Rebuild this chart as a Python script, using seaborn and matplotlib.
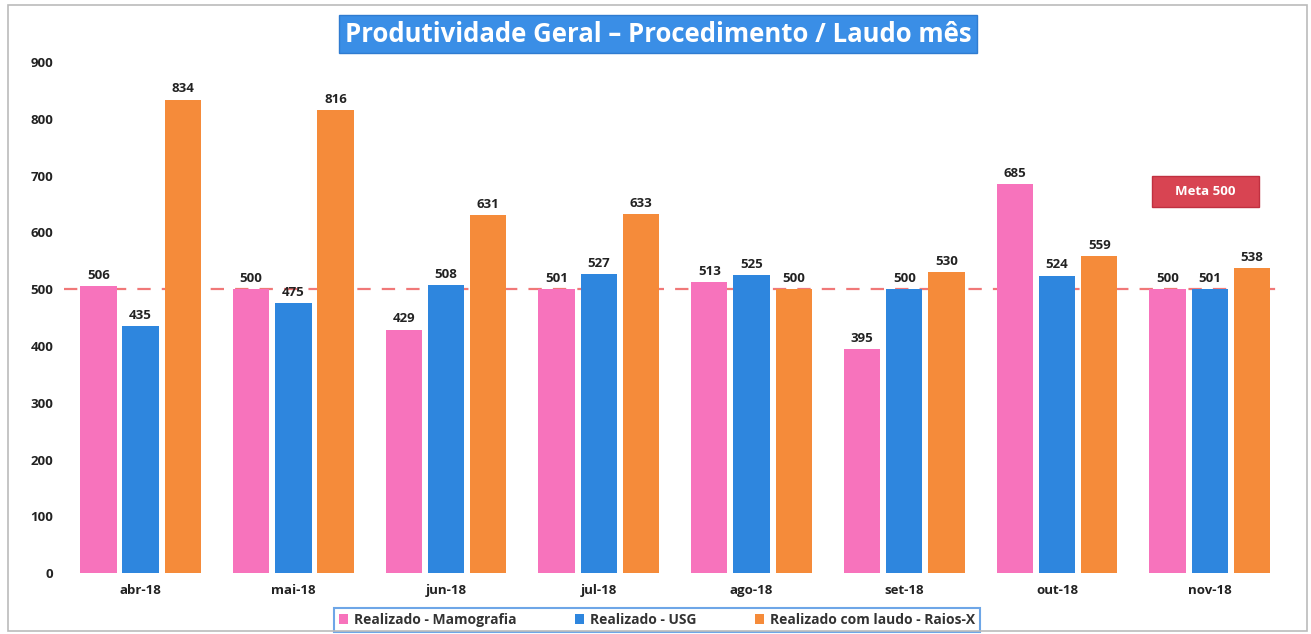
import pandas as pd
import numpy as np
import matplotlib.pyplot as plt
import seaborn as sns
from matplotlib.patches import Rectangle

# dados
meses = ['abr-18', 'mai-18', 'jun-18', 'jul-18', 'ago-18', 'set-18', 'out-18', 'nov-18']
mamografia = [506, 500, 429, 501, 513, 395, 685, 500]
usg = [435, 475, 508, 527, 525, 500, 524, 501]
raios_x = [834, 816, 631, 633, 500, 530, 559, 538]
series = ['Realizado - Mamografia', 'Realizado - USG', 'Realizado com laudo - Raios-X']
cores = ['#F773BC', '#2E86DE', '#F58B3A']
meta = 500

df = pd.DataFrame({
    'mes': meses * 3,
    'serie': [series[0]] * 8 + [series[1]] * 8 + [series[2]] * 8,
    'valor': mamografia + usg + raios_x,
})

sns.set_theme(style='white')
plt.rcParams['font.family'] = ['Open Sans', 'DejaVu Sans']

fig = plt.figure(figsize=(13.11, 6.34), dpi=100)
ax = fig.add_axes([0.049, 0.096, 0.932, 0.806])

sns.barplot(data=df, x='mes', y='valor', hue='serie', palette=cores, saturation=1,
            width=0.83, gap=0.14, edgecolor='none', ax=ax, legend=True)

# rótulos dos valores
for cont in ax.containers:
    ax.bar_label(cont, padding=3, fontsize=9.5, fontweight='bold', color='#222222')

# linha de meta
ax.axhline(meta, color='#F07878', linestyle=(0, (6, 5)), linewidth=1.6, zorder=0.5)

ax.set_ylim(0, 900)
ax.set_xlim(-0.5, len(meses) - 0.5)
ax.set_yticks(range(0, 901, 100))
ax.set_xlabel('')
ax.set_ylabel('')
ax.tick_params(axis='both', length=0, labelsize=9.5, pad=8)
for lbl in ax.get_xticklabels() + ax.get_yticklabels():
    lbl.set_fontweight('bold')
    lbl.set_color('#222222')
for s in ax.spines.values():
    s.set_visible(False)

# legenda
leg = ax.legend(loc='upper center', bbox_to_anchor=(0.485, -0.055), ncol=3,
                frameon=True, fontsize=10, handlelength=0.7, handleheight=0.7,
                columnspacing=4.2, borderpad=0.35, handletextpad=0.4)
leg.get_frame().set_edgecolor('#4A90E2')
leg.get_frame().set_linewidth(1.5)
leg.get_frame().set_boxstyle('square', pad=0.0)
for t in leg.get_texts():
    t.set_fontweight('bold')
    t.set_color('#333333')

# título
fig.text(0.502, 0.946, 'Produtividade Geral \u2013 Procedimento / Laudo mês',
         ha='center', va='center', fontsize=18.5, fontweight='bold', color='white',
         bbox=dict(boxstyle='square,pad=0.22', facecolor='#3A8EE6', edgecolor='#2F7BD0'))

# caixa meta
ax.text(0.934, 0.747, '    Meta 500    ', transform=ax.transAxes, ha='center', va='center',
        fontsize=9.5, fontweight='bold', color='white',
        bbox=dict(boxstyle='square,pad=0.7', facecolor='#D84452', edgecolor='#C03040'))

# moldura
fig.patches.append(Rectangle((0.006, 0.004), 0.991, 0.988, transform=fig.transFigure,
                             fill=False, edgecolor='#BBBBBB', linewidth=1.2))

fig.savefig('out.png', dpi=100)
